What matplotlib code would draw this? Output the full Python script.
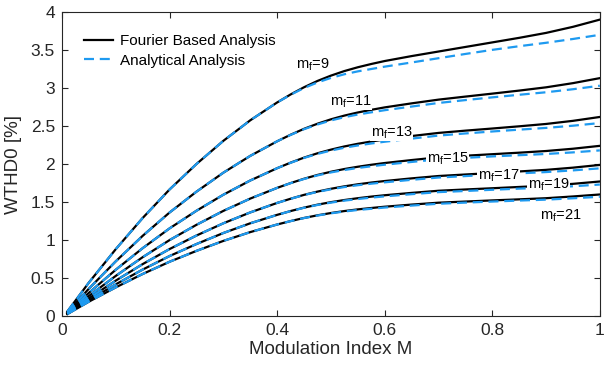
import matplotlib
matplotlib.use('Agg')
import matplotlib.pyplot as plt

plt.rcParams['font.family'] = ['Liberation Sans', 'DejaVu Sans']
plt.rcParams['mathtext.default'] = 'regular'

## Data
M = [0.01, 0.05, 0.10, 0.15, 0.20, 0.25, 0.30, 0.35, 0.40, 0.425, 0.45,
     0.475, 0.50, 0.525, 0.55, 0.575, 0.60, 0.65, 0.70, 0.75, 0.80,
     0.85, 0.90, 0.95, 1.00]

mf_list = [9, 11, 13, 15, 17, 19, 21]

# Fourier based analysis (black, solid)
fourier = {
    9:  [0.06, 0.44, 0.88, 1.29, 1.665, 2.00, 2.305, 2.575, 2.81, 2.915, 3.01,
         3.093, 3.163, 3.223, 3.273, 3.316, 3.355, 3.42, 3.48, 3.54, 3.60,
         3.66, 3.725, 3.805, 3.90],
    11: [0.049, 0.36, 0.72, 1.055, 1.362, 1.636, 1.886, 2.107, 2.299, 2.385, 2.463,
         2.53, 2.588, 2.637, 2.678, 2.713, 2.745, 2.798, 2.847, 2.887, 2.926,
         2.966, 3.009, 3.064, 3.13],
    13: [0.042, 0.305, 0.609, 0.893, 1.153, 1.385, 1.596, 1.783, 1.945, 2.018, 2.084,
         2.141, 2.189, 2.231, 2.266, 2.296, 2.323, 2.368, 2.409, 2.439, 2.467,
         2.496, 2.527, 2.568, 2.619],
    15: [0.036, 0.264, 0.528, 0.774, 0.999, 1.20, 1.383, 1.545, 1.686, 1.749, 1.806,
         1.856, 1.898, 1.934, 1.964, 1.99, 2.013, 2.052, 2.088, 2.109, 2.129,
         2.149, 2.171, 2.201, 2.239],
    17: [0.032, 0.233, 0.466, 0.683, 0.881, 1.059, 1.22, 1.363, 1.488, 1.543, 1.594,
         1.637, 1.674, 1.706, 1.733, 1.756, 1.776, 1.811, 1.842, 1.862, 1.882,
         1.902, 1.923, 1.952, 1.988],
    19: [0.028, 0.208, 0.417, 0.611, 0.789, 0.947, 1.092, 1.22, 1.331, 1.381, 1.426,
         1.465, 1.498, 1.526, 1.55, 1.571, 1.589, 1.62, 1.648, 1.665, 1.681,
         1.698, 1.715, 1.739, 1.77],
    21: [0.026, 0.189, 0.377, 0.553, 0.714, 0.857, 0.988, 1.104, 1.204, 1.249, 1.29,
         1.325, 1.355, 1.381, 1.403, 1.421, 1.438, 1.466, 1.491, 1.506, 1.521,
         1.535, 1.55, 1.573, 1.599],
}

# Analytical analysis (blue, dashed)
analytical = {
    9:  [0.06, 0.44, 0.88, 1.29, 1.665, 2.00, 2.305, 2.575, 2.81, 2.911, 3.00,
         3.073, 3.133, 3.181, 3.219, 3.25, 3.281, 3.336, 3.392, 3.448, 3.502,
         3.55, 3.595, 3.645, 3.70],
    11: [0.049, 0.36, 0.72, 1.055, 1.362, 1.636, 1.886, 2.107, 2.299, 2.383, 2.458,
         2.52, 2.573, 2.616, 2.651, 2.68, 2.708, 2.756, 2.803, 2.841, 2.877,
         2.911, 2.944, 2.984, 3.03],
    13: [0.042, 0.305, 0.609, 0.893, 1.153, 1.385, 1.596, 1.783, 1.945, 2.016, 2.08,
         2.133, 2.177, 2.214, 2.244, 2.27, 2.293, 2.334, 2.374, 2.402, 2.428,
         2.452, 2.475, 2.504, 2.539],
    15: [0.036, 0.264, 0.528, 0.774, 0.999, 1.20, 1.383, 1.545, 1.686, 1.748, 1.803,
         1.85, 1.889, 1.921, 1.948, 1.97, 1.991, 2.027, 2.062, 2.081, 2.10,
         2.116, 2.132, 2.153, 2.179],
    17: [0.032, 0.233, 0.466, 0.683, 0.881, 1.059, 1.22, 1.363, 1.488, 1.542, 1.592,
         1.633, 1.667, 1.697, 1.721, 1.741, 1.759, 1.792, 1.822, 1.841, 1.86,
         1.877, 1.894, 1.916, 1.943],
    19: [0.028, 0.208, 0.417, 0.611, 0.789, 0.947, 1.092, 1.22, 1.331, 1.38, 1.424,
         1.461, 1.492, 1.518, 1.539, 1.558, 1.574, 1.603, 1.63, 1.645, 1.661,
         1.676, 1.689, 1.707, 1.73],
    21: [0.026, 0.189, 0.377, 0.553, 0.714, 0.857, 0.988, 1.104, 1.204, 1.248, 1.289,
         1.322, 1.351, 1.375, 1.395, 1.411, 1.427, 1.453, 1.477, 1.492, 1.506,
         1.519, 1.531, 1.549, 1.569],
}

# label anchor (left edge, vertical centre)
label_pos = {9: (0.435, 3.30), 11: (0.498, 2.82), 13: (0.574, 2.41),
             15: (0.678, 2.07), 17: (0.773, 1.84), 19: (0.866, 1.72),
             21: (0.888, 1.32)}

blue = '#1e9af0'

fig = plt.figure(figsize=(6.05, 3.66), dpi=100)
ax = fig.add_axes([0.1025, 0.1366, 0.889, 0.8306])

for mf in mf_list:
    lab1 = 'Fourier Based Analysis' if mf == 9 else None
    lab2 = 'Analytical Analysis' if mf == 9 else None
    ax.plot(M, fourier[mf], color='black', lw=1.6, label=lab1, zorder=2)
    ax.plot(M, analytical[mf], color=blue, lw=1.6, dashes=(4.5, 2.6),
            label=lab2, zorder=3)

for mf in mf_list:
    x, y = label_pos[mf]
    ax.text(x, y, 'm$_{f}$=%d' % mf, fontsize=10.5, va='center', ha='left',
            zorder=5, bbox=dict(facecolor='white', edgecolor='none', pad=0.3))

ax.set_xlim(0, 1)
ax.set_ylim(0, 4)
ax.set_xticks([0, 0.2, 0.4, 0.6, 0.8, 1])
ax.set_xticklabels(['0', '0.2', '0.4', '0.6', '0.8', '1'])
ax.set_yticks([0, 0.5, 1, 1.5, 2, 2.5, 3, 3.5, 4])
ax.set_yticklabels(['0', '0.5', '1', '1.5', '2', '2.5', '3', '3.5', '4'])
ax.tick_params(direction='in', top=True, right=True, labelsize=12.5,
               length=4, width=0.8, colors='#262626', pad=5)
for s in ax.spines.values():
    s.set_color('#262626')
    s.set_linewidth(0.8)
ax.set_xlabel('Modulation Index M', fontsize=13.5, color='#262626', labelpad=2)
ax.set_ylabel('WTHD0 [%]', fontsize=13.5, color='#262626', labelpad=6)

ax.legend(loc='upper left', bbox_to_anchor=(0.015, 0.972), frameon=False,
          fontsize=11, handlelength=1.9, handletextpad=0.45, labelspacing=0.35)

plt.savefig('out.png', dpi=100)
